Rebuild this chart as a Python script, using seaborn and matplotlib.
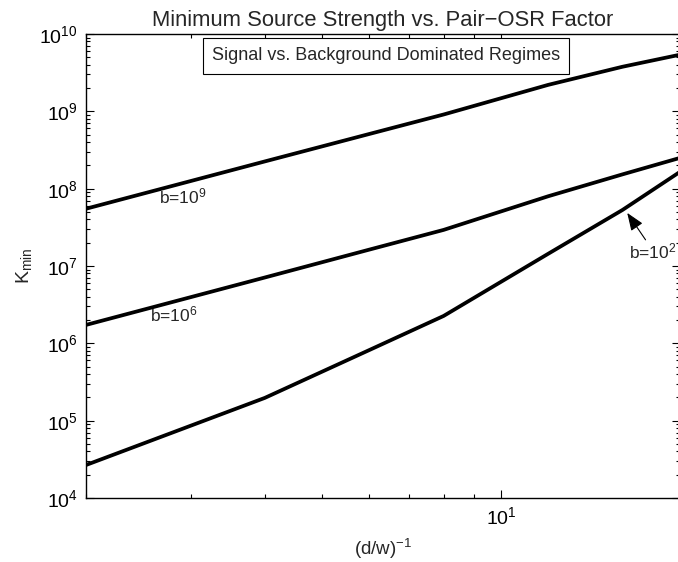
import numpy as np
import pandas as pd
import matplotlib
matplotlib.use("Agg")
import matplotlib.pyplot as plt
import seaborn as sns
from matplotlib.ticker import LogLocator, FixedLocator, NullFormatter

# ---- data ----
x_vals = [2, 4, 6, 8, 12, 16, 20]
k_b9 = [5.5e7, 2.25e8, 5.1e8, 9.1e8, 2.2e9, 3.77e9, 5.4e9]
k_b6 = [1.73e6, 7.1e6, 1.63e7, 2.93e7, 7.98e7, 1.53e8, 2.5e8]
k_b2 = [2.67e4, 1.97e5, 8.2e5, 2.26e6, 1.44e7, 5.3e7, 1.65e8]
series_names = ["b=1e9", "b=1e6", "b=1e2"]
y_ticks = [1e4, 1e5, 1e6, 1e7, 1e8, 1e9, 1e10]
x_ticks = [10]

title = "Minimum Source Strength vs. Pair\u2212OSR Factor"
box_text = "Signal vs. Background Dominated Regimes"

df = pd.DataFrame({
    "x": x_vals * 3,
    "K": k_b9 + k_b6 + k_b2,
    "series": sum([[n] * len(x_vals) for n in series_names], []),
})

sns.set_theme(style="white")
plt.rcParams["font.family"] = ["Liberation Sans", "DejaVu Sans"]
plt.rcParams["mathtext.fontset"] = "custom"
plt.rcParams["mathtext.rm"] = "Liberation Sans"
plt.rcParams["mathtext.it"] = "Liberation Sans"
plt.rcParams["mathtext.default"] = "regular"

fig = plt.figure(figsize=(6.78, 5.62), dpi=100)
ax = fig.add_axes([86 / 678, 1 - 498 / 562, (680 - 86) / 678, (498 - 34) / 562])

sns.lineplot(data=df, x="x", y="K", hue="series", palette=["black"] * 3,
             linewidth=2.7, legend=False, ax=ax, sort=False)

ax.set_xscale("log")
ax.set_yscale("log")
ax.set_xlim(2, 20)
ax.set_ylim(1e4, 1e10)

ax.xaxis.set_major_locator(FixedLocator(x_ticks))
ax.xaxis.set_major_formatter(plt.FuncFormatter(lambda v, p: r"$10^{%d}$" % round(np.log10(v))))
ax.xaxis.set_minor_locator(LogLocator(base=10, subs=np.arange(2, 10)))
ax.xaxis.set_minor_formatter(NullFormatter())
ax.yaxis.set_major_locator(FixedLocator(y_ticks))
ax.yaxis.set_major_formatter(plt.FuncFormatter(lambda v, p: r"$10^{%d}$" % round(np.log10(v))))
ax.yaxis.set_minor_locator(LogLocator(base=10, subs=np.arange(2, 10), numticks=20))
ax.yaxis.set_minor_formatter(NullFormatter())

ax.tick_params(which="both", direction="in", top=True, right=True, bottom=True, left=True,
               colors="black", labelsize=14, width=0.8)
ax.tick_params(which="major", length=6, pad=6)
ax.tick_params(which="minor", length=3)
for s in ax.spines.values():
    s.set_color("black")
    s.set_linewidth(1.0)

ax.set_title(title, fontsize=15.8, pad=6)
ax.set_xlabel("(d/w)$^{\u22121}$", fontsize=13.5, labelpad=6)
ax.set_ylabel("K$_{min}$", fontsize=14, labelpad=4)

ax.text(212 / 678, 1 - 56 / 562, box_text, transform=fig.transFigure, fontsize=13,
        ha="left", va="center",
        bbox=dict(boxstyle="square,pad=0.5", fc="white", ec="black", lw=0.8))

ax.text(2.65, 6.4e7, "b=10$^{9}$", fontsize=12.5, va="baseline", ha="left")
ax.text(2.56, 1.9e6, "b=10$^{6}$", fontsize=12.5, va="baseline", ha="left")
ax.text(16.4, 1.27e7, "b=10$^{2}$", fontsize=12.5, va="baseline", ha="left", clip_on=False)
ax.annotate("", xy=(16.3, 4.86e7), xytext=(17.5, 2.18e7),
            arrowprops=dict(arrowstyle="-|>,head_length=0.9,head_width=0.35", lw=0.8,
                            color="black", shrinkA=0, shrinkB=0))

fig.savefig("out.png", dpi=100)
